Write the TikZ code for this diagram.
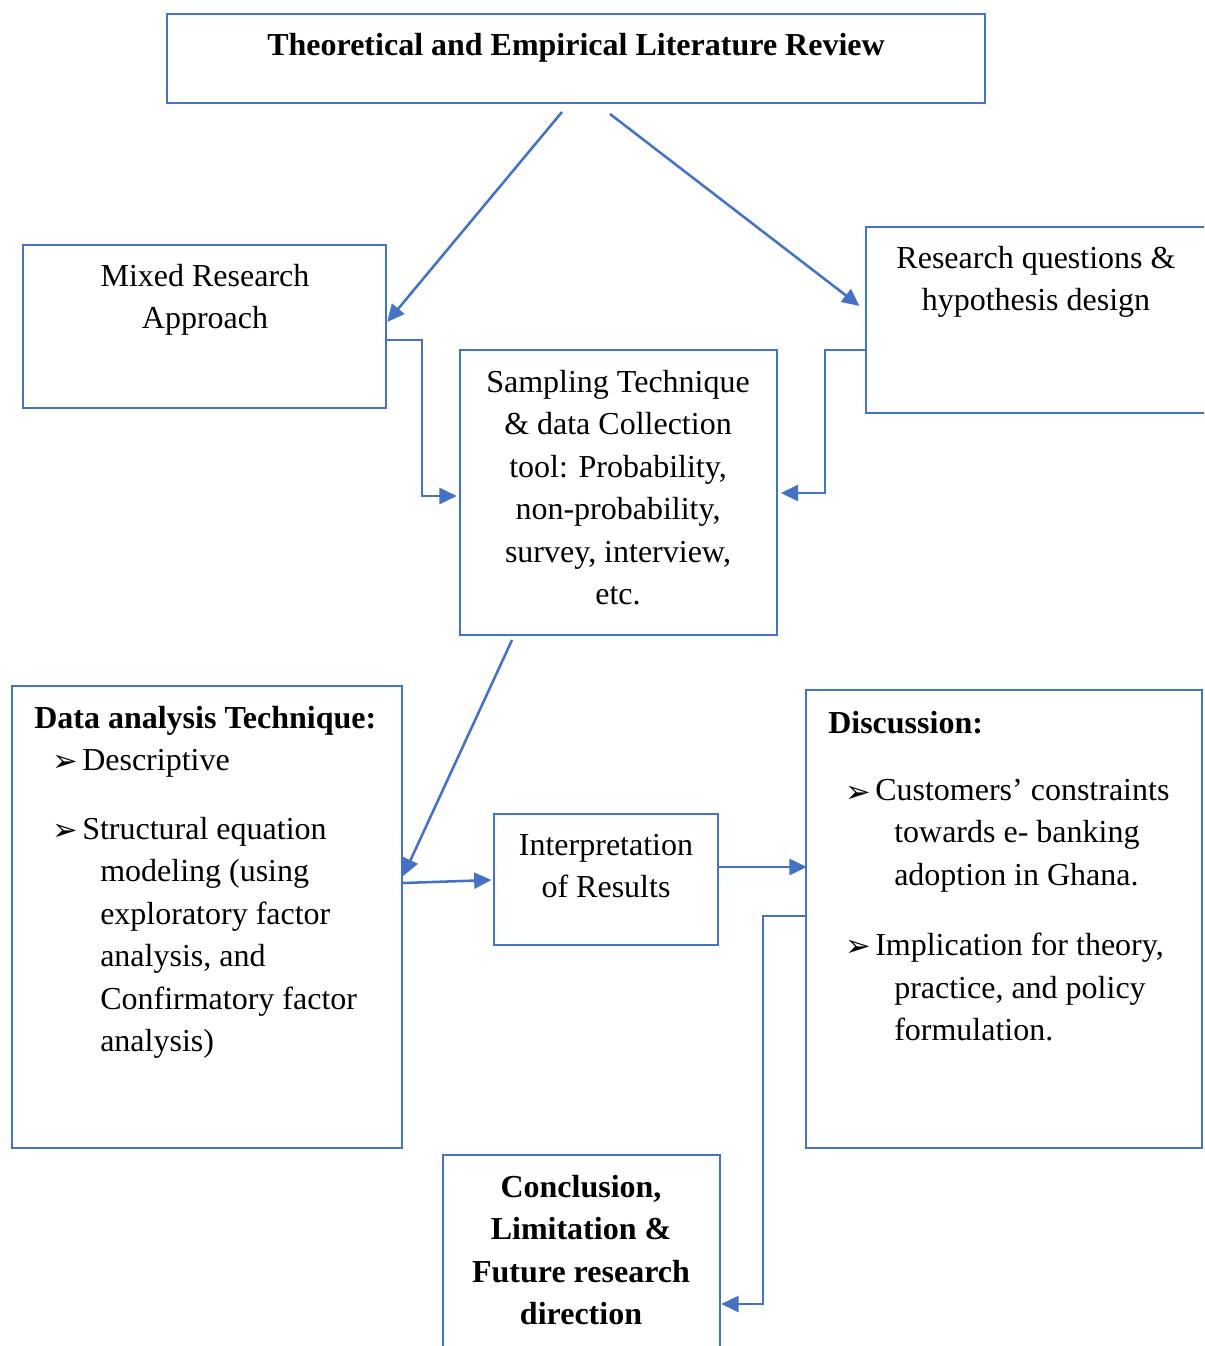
\documentclass[tikz,border=0pt]{standalone}
\usepackage{fontspec}
\setmainfont{Liberation Serif}
\newfontfamily\dejavu{DejaVu Sans}
\usetikzlibrary{arrows.meta}
\definecolor{wblue}{HTML}{4472C4}
\newcommand{\blt}{{\dejavu\fontsize{23pt}{24pt}\selectfont ➢}}
\begin{document}
\begin{tikzpicture}[x=0.75pt,y=-0.75pt,
  font=\fontsize{24pt}{31.8pt}\selectfont,
  box/.style={draw=wblue, line width=1.8pt, inner sep=0pt, rectangle},
  txt/.style={inner sep=0pt, align=center, anchor=north},
  ltxt/.style={inner sep=0pt, align=left, anchor=north west},
  btxt/.style={inner sep=0pt, anchor=base west},
  arr/.style={draw=wblue, line width=1.9pt, -{Triangle[length=13pt,width=12pt]}}]
\clip (0,0) rectangle (1204,1346);
\fill[white] (0,0) rectangle (1204,1346);

% boxes
\node[box, minimum width=613.5pt, minimum height=66.75pt] (top) at (576,58.5) {};
\node[box, minimum width=272.25pt, minimum height=122.25pt] (mixed) at (204.5,326.5) {};
\node[box, minimum width=265.5pt, minimum height=139.5pt] (research) at (1043,320) {};
\node[box, minimum width=237.75pt, minimum height=213.75pt] (sampling) at (618.5,492.5) {};
\node[box, minimum width=292.5pt, minimum height=346.5pt] (data) at (207,917) {};
\node[box, minimum width=168pt, minimum height=98.25pt] (interp) at (606,879.5) {};
\node[box, minimum width=297pt, minimum height=343.5pt] (disc) at (1004,919) {};
\node[box, minimum width=207.75pt, minimum height=161.25pt] (concl) at (581.5,1262.5) {};

% texts
\node[txt, font=\fontsize{24pt}{31.8pt}\selectfont\bfseries] (toptxt) at (576,33) {Theoretical and Empirical Literature Review};
\node[txt] (mixedtxt) at (205,264) {Mixed Research\\Approach};
\node[txt] (researchtxt) at (1036,246) {Research questions \&\\hypothesis design};
\node[txt] (samplingtxt) at (618,370) {Sampling Technique\\\& data Collection\\tool: Probability,\\non-probability,\\survey, interview,\\etc.};
\node[txt] (interptxt) at (606,834) {Interpretation\\of Results};
\node[txt, font=\fontsize{24pt}{31.8pt}\selectfont\bfseries] (concltxt) at (581,1175) {Conclusion,\\Limitation \&\\Future research\\direction};

\node[btxt, font=\fontsize{24pt}{31.8pt}\selectfont\bfseries] (datatitle) at (34,728) {Data analysis Technique:};
\node[btxt] (db1) at (52,771) {\blt};
\node[btxt] (dt1) at (82,770) {Descriptive};
\node[btxt] (db2) at (52,840) {\blt};
\node[ltxt] (dt2) at (82,817) {Structural equation\\\hspace*{13.5pt}modeling (using\\\hspace*{13.5pt}exploratory factor\\\hspace*{13.5pt}analysis, and\\\hspace*{13.5pt}Confirmatory factor\\\hspace*{13.5pt}analysis)};

\node[btxt, font=\fontsize{24pt}{31.8pt}\selectfont\bfseries] (disctitle) at (828,733) {Discussion:};
\node[btxt] (cb1) at (845,802) {\blt};
\node[ltxt] (ct1) at (875,779) {Customers’ constraints\\\hspace*{14.25pt}towards e- banking\\\hspace*{14.25pt}adoption in Ghana.};
\node[btxt] (cb2) at (845,956) {\blt};
\node[ltxt] (ct2) at (875,933) {Implication for theory,\\\hspace*{14.25pt}practice, and policy\\\hspace*{14.25pt}formulation.};

% free ends
\coordinate (t1) at (562,112);
\coordinate (t2) at (610,114);
\coordinate (s1) at (512,640);

% connectors
\draw[arr] (t1) -- (mixed.east |- 0,322);
\draw[arr, shorten >=5pt] (t2) -- (research.west |- 0,310);
\draw[arr] (mixed.east |- 0,340) -- (422,340) -- (422,496) -- ([xshift=-1.5pt]sampling.west |- 0,496);
\draw[arr] (research.west |- 0,350) -- (825,350) -- (825,493) -- ([xshift=2pt]sampling.east |- 0,493);
\draw[arr] (s1) -- (data.east |- 0,876);
\draw[arr] (data.east |- 0,883) -- ([xshift=-1pt]interp.west |- 0,880);
\draw[arr] (interp.east |- 0,867) -- ([xshift=1.5pt]disc.west |- 0,867);
\draw[arr] (disc.west |- 0,916) -- (763,916) -- (763,1304) -- (concl.east |- 0,1304);
\end{tikzpicture}
\end{document}
